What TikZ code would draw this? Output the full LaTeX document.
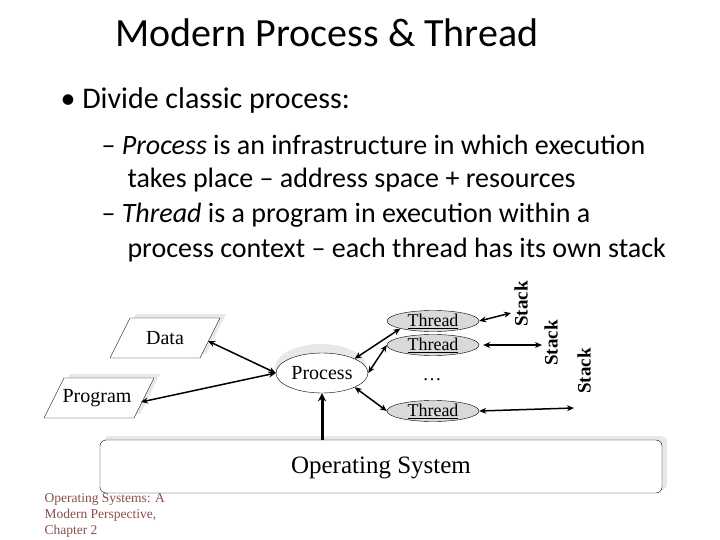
\documentclass[tikz,border=0pt]{standalone}
\usepackage{fontspec}
\setmainfont{Carlito}
\newfontfamily\tnr{Liberation Serif}
\usetikzlibrary{shapes.geometric,arrows.meta}
\begin{document}
\begin{tikzpicture}[x=1pt,y=-1pt,
  thr/.style={ellipse,draw,fill=gray!30,minimum width=92pt,minimum height=21pt,inner sep=0pt,font=\tnr\fontsize{18}{20}\selectfont},
  stk/.style={rotate=90,font=\tnr\bfseries\fontsize{19}{21}\selectfont},
  shad/.style={fill=gray!18,draw=none},
  dar/.style={{Stealth[length=7pt,width=6pt]}-{Stealth[length=7pt,width=6pt]},line width=1.5pt},
  bodyt/.style={font=\fontsize{28}{33}\selectfont,anchor=west}]
\useasboundingbox (0,0) rectangle (720,540);
\node (title) at (327,33) {\fontsize{40}{46}\selectfont Modern Process \& Thread};
\node[anchor=west] (b1) at (57,101) {\fontsize{30}{34}\selectfont • Divide classic process:};
\node[bodyt] (l1) at (98,145) {– \textit{Process} is an infrastructure in which execution};
\node[bodyt] (l2) at (124,180) {takes place – address space + resources};
\node[bodyt] (l3) at (98,215) {– \textit{Thread} is a program in execution within a};
\node[bodyt] (l4) at (124,250) {process context – each thread has its own stack};
% shadows
\fill[shad] (116,354) -- (136,314) -- (226,314) -- (206,354) -- cycle;
\fill[shad] (50,414) -- (70,374) -- (160,374) -- (140,414) -- cycle;
\fill[shad,rounded corners=6pt] (104,436) rectangle (667,490);
\fill[shad] (321,368) ellipse (46pt and 24pt);
% parallelograms
\draw[fill=white] (110,358) -- (130,318) -- (220,318) -- (200,358) -- cycle;
\node[font=\tnr\fontsize{20}{22}\selectfont] (data) at (165,338) {Data};
\draw[fill=white] (44,418) -- (64,378) -- (154,378) -- (134,418) -- cycle;
\node[font=\tnr\fontsize{20}{22}\selectfont] (prog) at (97,398) {Program};
\coordinate (dataE) at (208,341);
\coordinate (progE) at (141,402);
\draw[fill=white,rounded corners=6pt] (100,440) rectangle (662,493);
\node (os) at (381,468) {\tnr\fontsize{25}{28}\selectfont Operating System};
\node[ellipse,draw,fill=white,minimum width=92pt,minimum height=40pt,inner sep=0pt,font=\tnr\fontsize{20}{22}\selectfont] (proc) at (322,373) {Process};
\node[thr] (t1) at (433,321) {\underline{Thread}};
\node[thr] (t2) at (433,345) {\underline{Thread}};
\node[thr] (t3) at (433,411) {\underline{Thread}};
\node (dots) at (432,380) {\tnr\fontsize{19}{21}\selectfont …};
\node[stk] (s1) at (521,304) {Stack};
\node[stk] (s2) at (551,343) {Stack};
\node[stk] (s3) at (584,371) {Stack};
\coordinate (e1) at (511,313);
\coordinate (e2) at (542,345);
\coordinate (e3) at (574,408);
\draw[dar] (dataE) -- (proc.west);
\draw[dar] (progE) -- (proc.west);
\draw[dar] (proc.north east) -- (t1.south west);
\draw[dar] (proc.east) -- (t2.west);
\draw[dar] (proc.south east) -- (t3.west);
\draw[dar] (t1.east) -- (e1);
\draw[dar] ([xshift=4pt]t2.east) -- (e2);
\draw[dar] (t3.east) -- (e3);
\draw[-{Stealth[length=8pt,width=8pt]},line width=3pt] (proc.south |- 0,440) -- (proc.south);
\node[anchor=north west,align=left,text=red!35!black!70,font=\tnr\fontsize{13.5}{16}\selectfont] (foot) at (41,490) {Operating Systems: A\\Modern Perspective,\\Chapter 2};
\end{tikzpicture}
\end{document}
